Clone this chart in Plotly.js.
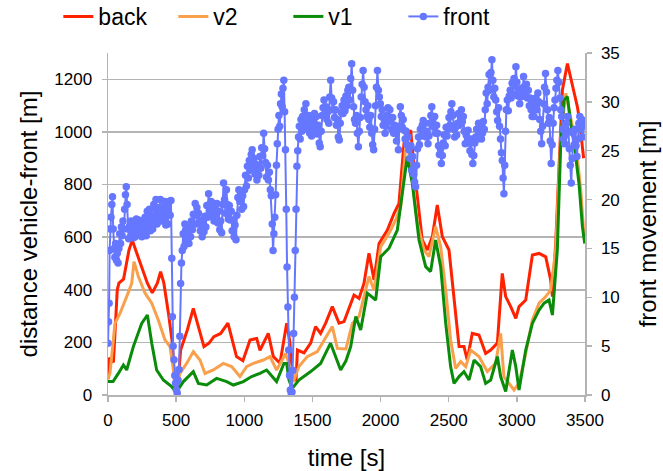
<!DOCTYPE html>
<html><head><meta charset="utf-8">
<script src="https://cdn.plot.ly/plotly-3.0.1.min.js"></script>
<style>html,body{margin:0;padding:0;background:#fff}#chart{width:663px;height:471px}</style>
</head><body><div id="chart"></div>
<script>
// back (red) – left axis [m]
const backT = [0,5,40,68,80,114,154,178,203,252,289,325,362,386,410,447,472,490,510,533,582,626,667,704,741,777,827,862,880,943,990,1042,1091,1115,1176,1213,1262,1311,1335,1352,1380,1390,1438,1487,1523,1560,1597,1646,1695,1732,1805,1842,1878,1915,1952,1989,2050,2099,2135,2172,2221,2245,2282,2306,2343,2380,2416,2453,2502,2539,2576,2612,2636,2673,2722,2771,2808,2857,2893,2918,2955,2992,3016,3065,3114,3163,3212,3248,3261,3285,3310,3334,3371,3395,3420,3444,3456,3481,3490];
const backV = [60,140,125,400,425,440,551,589,551,475,425,388,425,469,425,298,197,30,20,171,247,329,247,184,197,222,234,260,273,146,130,209,215,170,234,146,121,273,200,57,57,171,160,197,260,234,273,336,273,279,380,367,424,539,437,576,627,690,728,957,1007,868,703,589,551,602,722,602,551,361,184,184,133,234,228,158,171,197,462,374,336,291,336,361,532,538,525,437,374,576,906,1159,1260,1210,1147,1096,1058,931,900];

// v2 (orange) – left axis [m]
const v2T = [0,15,51,88,137,174,191,223,272,321,369,418,455,490,510,528,577,626,675,712,773,846,907,968,1017,1066,1140,1189,1237,1304,1340,1360,1401,1462,1536,1585,1646,1683,1746,1793,1842,1915,1952,2001,2062,2111,2148,2184,2200,2233,2270,2319,2355,2404,2441,2478,2514,2551,2588,2625,2661,2722,2783,2844,2881,2905,2979,3016,3065,3114,3163,3212,3248,3285,3322,3359,3395,3432,3469,3493];
const v2V = [60,84,272,310,374,424,507,450,387,349,285,209,184,60,40,82,120,165,133,82,95,120,108,70,108,120,133,146,95,158,100,50,108,146,165,209,260,177,175,272,298,450,399,564,615,665,716,944,950,817,653,551,526,640,564,399,209,101,127,108,171,146,89,120,234,70,19,44,158,285,349,374,399,551,982,1147,1058,957,779,602];

// v1 (green) – left axis [m]
const v1T = [0,37,76,113,137,186,247,289,321,357,406,467,500,553,626,663,724,797,871,920,993,1054,1115,1164,1237,1291,1311,1328,1352,1401,1487,1560,1633,1707,1746,1781,1818,1854,1903,1964,2001,2062,2123,2160,2196,2233,2282,2331,2367,2404,2441,2478,2514,2539,2576,2612,2649,2686,2734,2771,2808,2857,2881,2918,2967,2992,3016,3065,3114,3163,3200,3236,3261,3297,3322,3346,3371,3395,3420,3456,3481,3498];
const v1V = [51,51,82,114,95,184,272,304,197,95,57,32,10,51,89,44,38,63,51,38,51,70,82,95,51,120,120,57,25,57,89,120,197,95,130,184,298,247,387,361,526,558,627,779,906,804,589,488,469,589,488,272,108,44,70,89,57,133,108,44,57,146,70,13,171,108,19,171,272,323,349,361,304,551,957,1121,1134,1033,957,804,640,576];

// front movement (blue) – right axis [m], [time, value] readings
const frontPts = [
[0,5.3],[4,7.5],[8,9.4],[12,14.8],[16,17],[22,18.2],[28,19.5],[33,20.3],[38,17],[44,15],[50,14.1],[56,15.5],[62,13.8],[68,14.5],[74,13.5],[80,15],[86,16.5],[92,15.5],[98,17.2],[104,16.3],[110,17.8],[116,17],[122,19],[128,20.5],[134,21.3],[140,19.5],[146,17],[152,16],[158,17.3],[164,16.2],[170,17.8],[176,16.5],[182,17.5],[188,16.1],[194,17.6],[200,16.2],[208,18],[216,16.8],[224,17.9],[232,16.5],[240,17.3],[248,16.2],[256,17.8],[264,16.5],[272,18.2],[280,16.3],[288,18.8],[296,17.2],[304,19],[312,16.8],[320,18.4],[328,17],[336,19.5],[344,18],[352,20],[360,17.5],[368,19.2],[376,18.2],[384,20],[392,17.8],[400,19.2],[408,18],[416,19.8],[424,17.4],[432,19.5],[440,17.5],[448,19.8],[456,18.4],[462,19.9],[468,14],[472,8.0],[478,5],[484,3.6],[490,2],[496,1.2],[502,0.5],[508,0.2],[514,1.5],[521,2.6],[527,6],[533,11.4],[539,13.5],[545,14.8],[552,16.5],[558,15.2],[564,17.5],[570,16.9],[576,15.8],[582,17],[588,16],[594,15.5],[600,17.2],[606,16.2],[612,17.8],[619,16.9],[626,18.5],[633,17.5],[640,19.6],[646,18.4],[652,19.2],[658,17.5],[664,18.6],[670,17.7],[677,16.8],[684,17.9],[691,16.2],[698,17.4],[704,16.7],[711,18.3],[718,17.2],[725,19.4],[732,18.2],[738,20.6],[744,19.5],[750,18.6],[757,19.8],[764,18.3],[771,19.6],[778,17.8],[785,19.2],[792,18.5],[799,19.6],[806,17.6],[813,18.8],[820,16.9],[827,17.8],[834,16.6],[841,19.5],[848,21.7],[855,20],[862,18.6],[869,21],[876,19.5],[883,18],[890,19.4],[897,17.9],[904,18.8],[911,16.8],[918,17.9],[925,16.2],[932,17.4],[939,15.9],[946,18.4],[953,20.2],[960,21],[967,19.8],[974,20.6],[981,19],[988,20.4],[995,19.3],[1002,21],[1009,22.5],[1016,21.4],[1023,23.4],[1030,22.2],[1037,24],[1044,23],[1051,24.6],[1058,25.1],[1065,23.5],[1072,24.2],[1079,22.6],[1086,23.6],[1093,22],[1100,23.2],[1107,22.5],[1114,24.4],[1121,23.2],[1128,25.3],[1135,24.5],[1142,26.8],[1149,25.2],[1156,23.8],[1163,22.3],[1170,23.5],[1177,22],[1184,22.8],[1191,21],[1198,20.4],[1205,17.5],[1211,14.8],[1217,16.5],[1224,18.2],[1230,20.5],[1236,23.5],[1242,25.7],[1248,27.2],[1254,28.6],[1260,27.5],[1266,29.8],[1272,30.8],[1278,29.5],[1284,31.4],[1290,32.2],[1296,29],[1302,25.1],[1308,19],[1314,13.1],[1320,9],[1326,4.6],[1332,2],[1338,0.5],[1344,0.2],[1350,0.3],[1356,2.5],[1362,6.3],[1368,10],[1374,14.8],[1380,19],[1386,23.4],[1392,25],[1398,26.4],[1404,27.5],[1410,26.2],[1416,28.2],[1422,27],[1428,28.5],[1434,27.4],[1440,29.2],[1446,28],[1452,29.8],[1459,28.5],[1466,27.2],[1473,28.6],[1480,26.8],[1487,27.9],[1494,26.5],[1501,28.2],[1508,27],[1515,28.8],[1522,27.5],[1529,28.5],[1536,26.7],[1543,27.6],[1550,25.8],[1557,25.4],[1564,27],[1571,28.6],[1578,29.4],[1585,30.2],[1592,28.8],[1599,29.5],[1606,28.2],[1613,29],[1620,27.8],[1627,30.5],[1634,32.2],[1641,30.4],[1648,29.2],[1655,30],[1662,28.4],[1669,29.2],[1676,27.6],[1683,28.2],[1690,26.4],[1697,26.1],[1704,27.8],[1711,28.9],[1718,29.6],[1725,28.8],[1732,30.2],[1739,29.1],[1746,30.6],[1753,29.6],[1760,31.2],[1767,31.5],[1774,30.2],[1781,32.4],[1788,33.9],[1795,31.2],[1802,29.5],[1809,28.2],[1816,27.8],[1823,28.6],[1830,26.8],[1837,25.4],[1844,27],[1851,28.4],[1858,30.5],[1865,31.8],[1872,33.2],[1879,31.5],[1886,30],[1893,29.2],[1900,28.5],[1907,29.6],[1914,28.2],[1921,27.4],[1928,28.6],[1935,26.8],[1942,25.6],[1949,25.1],[1956,27.2],[1963,29.6],[1970,31.5],[1977,33.2],[1984,31.2],[1991,30.5],[1998,29.8],[2005,28.5],[2012,29.2],[2019,27.6],[2026,28.2],[2033,26.8],[2040,27.5],[2047,28.6],[2054,29.4],[2061,28.2],[2068,29.2],[2075,28],[2082,27.2],[2089,28.4],[2096,26.8],[2103,27.6],[2110,26.8],[2117,26],[2124,27.2],[2131,25.1],[2138,27.5],[2145,29.5],[2152,28.6],[2159,27.4],[2166,28.2],[2173,27.1],[2180,26.2],[2187,27],[2194,25.6],[2201,26.4],[2208,25.1],[2215,24.2],[2222,25.5],[2229,23],[2236,24.4],[2243,22.6],[2250,21.8],[2257,21.3],[2264,23.5],[2271,25.2],[2278,26.4],[2285,25.6],[2292,27.2],[2299,26.5],[2306,27.6],[2313,28.1],[2320,26.8],[2327,27.8],[2334,26.4],[2341,27],[2348,25.7],[2355,26.5],[2362,27.8],[2369,28.6],[2376,29.5],[2383,28.2],[2390,27.4],[2397,28.5],[2404,26.8],[2411,27.6],[2418,26.8],[2425,25.5],[2432,24.6],[2439,25.2],[2446,23.7],[2453,24.5],[2460,25.8],[2467,26.6],[2474,25.5],[2481,27.4],[2488,26.5],[2495,27.2],[2502,28.4],[2509,27.6],[2516,29],[2523,29.8],[2530,28.6],[2537,27.2],[2544,26.4],[2551,27.4],[2558,26.6],[2565,27.8],[2572,28.8],[2579,27.6],[2586,28.5],[2593,29.2],[2600,28],[2607,28.5],[2614,27],[2621,25.7],[2628,26.6],[2635,25.8],[2642,27.1],[2649,26.2],[2656,25],[2663,26.2],[2670,24.6],[2677,23.7],[2684,24.5],[2691,25.8],[2698,26.4],[2705,27.2],[2712,26.2],[2719,27.8],[2726,26.6],[2733,27.4],[2740,26.2],[2747,26.8],[2754,28],[2761,27.2],[2768,29.2],[2775,30.9],[2782,29.8],[2789,31.5],[2796,32.8],[2803,31.2],[2810,33],[2817,34.3],[2824,32.2],[2831,30.5],[2838,31.4],[2845,30.2],[2852,29],[2859,28.1],[2866,29.4],[2873,27.5],[2880,26.2],[2887,24.8],[2893,24],[2899,22.2],[2905,20.6],[2911,23.5],[2917,27],[2923,29.2],[2930,30.2],[2937,29.1],[2944,30.6],[2951,31.2],[2958,30.4],[2965,31.9],[2972,30.8],[2979,32.4],[2986,31.6],[2993,33.6],[3000,32],[3007,30.6],[3014,31.2],[3021,29.8],[3028,30.5],[3035,31.4],[3042,30.6],[3049,32.6],[3056,31.6],[3063,30.8],[3070,31.8],[3077,30.4],[3084,31.2],[3091,29.6],[3098,30.4],[3105,29.2],[3112,28.5],[3119,29.8],[3126,28.5],[3133,29.6],[3140,30.4],[3147,29.2],[3154,30.9],[3161,30],[3168,28.2],[3175,27],[3182,25.7],[3189,27.5],[3196,29.8],[3203,31.5],[3210,32.9],[3217,31],[3224,29.2],[3231,27.8],[3238,28.4],[3245,26],[3252,23.7],[3259,25.6],[3266,27.8],[3273,29.4],[3280,30.2],[3287,31.4],[3294,32.2],[3301,33.2],[3308,32],[3315,30.4],[3322,29.2],[3329,28.5],[3336,27.2],[3343,26.2],[3350,25.7],[3357,26.6],[3364,27.8],[3371,28.5],[3378,27],[3385,25.2],[3392,23.5],[3399,21.7],[3406,24.2],[3413,26.8],[3420,25.6],[3427,27.2],[3434,25.5],[3441,24.4],[3448,26.2],[3455,27.8],[3462,28.5],[3469,27.2],[3476,28.2],[3483,26.4],[3490,27.6],[3497,28]
];
const frontT = frontPts.map(p => p[0]);
const frontV = frontPts.map(p => p[1]);

const yTicks = [0,200,400,600,800,1000,1200];
const y2Ticks = [0,5,10,15,20,25,30,35];
const xTicks = [0,500,1000,1500,2000,2500,3000,3500];

const SANS = '"Liberation Sans", Arial, sans-serif';
const gray = '#b4b4b4';

const traces = [
  {x: backT, y: backV, name: 'back', type: 'scatter', mode: 'lines', line: {color: '#ff2200', width: 3}},
  {x: v2T, y: v2V, name: 'v2', type: 'scatter', mode: 'lines', line: {color: '#f9a04c', width: 3}},
  {x: v1T, y: v1V, name: 'v1', type: 'scatter', mode: 'lines', line: {color: '#0a8c0a', width: 3}},
  {x: frontT, y: frontV, name: 'front', type: 'scatter', mode: 'lines+markers', yaxis: 'y2',
   line: {color: '#6677ff', width: 2}, marker: {color: '#6677ff', size: 7.5, symbol: 'circle'}}
];

const layout = {
  width: 663, height: 471,
  margin: {l: 108, r: 78, t: 53, b: 76},
  paper_bgcolor: '#fff', plot_bgcolor: '#fff',
  font: {family: SANS, color: '#000'},
  showlegend: true,
  legend: {orientation: 'h', xref: 'container', yref: 'container', x: 0.088, xanchor: 'left',
           y: 0.965, yanchor: 'middle', entrywidth: 70, itemwidth: 30,
           font: {family: SANS, size: 23, color: '#000'}, bgcolor: 'rgba(0,0,0,0)'},
  xaxis: {range: [0, 3500], tickvals: xTicks, ticks: 'outside', ticklen: 5, tickcolor: gray, tickwidth: 1.5,
          showline: true, linecolor: gray, linewidth: 1.5, showgrid: false, zeroline: false,
          ticklabelstandoff: 4,
          tickfont: {family: SANS, size: 17, color: '#000'},
          title: {text: 'time [s]', font: {family: SANS, size: 24, color: '#000'}, standoff: 20}},
  yaxis: {range: [0, 1300], tickvals: yTicks, ticks: 'outside', ticklen: 5, tickcolor: gray, tickwidth: 1.5,
          showline: true, linecolor: gray, linewidth: 1.5, showgrid: true, gridcolor: gray, gridwidth: 1.5,
          zeroline: false, ticklabelstandoff: 6, tickfont: {family: SANS, size: 17, color: '#000'},
          title: {text: 'distance vehicle-front [m]', font: {family: SANS, size: 24, color: '#000'}, standoff: 10}},
  yaxis2: {range: [0, 35], tickvals: y2Ticks, overlaying: 'y', side: 'right', ticks: 'outside', ticklen: 5,
           tickcolor: gray, tickwidth: 1.5, showline: true, linecolor: gray, linewidth: 1.5, showgrid: false,
           zeroline: false, ticklabelstandoff: 6, tickfont: {family: SANS, size: 17, color: '#000'},
           title: {text: 'front movement [m]', font: {family: SANS, size: 24, color: '#000'}, standoff: 20}}
};

Plotly.newPlot('chart', traces, layout, {displayModeBar: false, staticPlot: true});
</script>
</body></html>
